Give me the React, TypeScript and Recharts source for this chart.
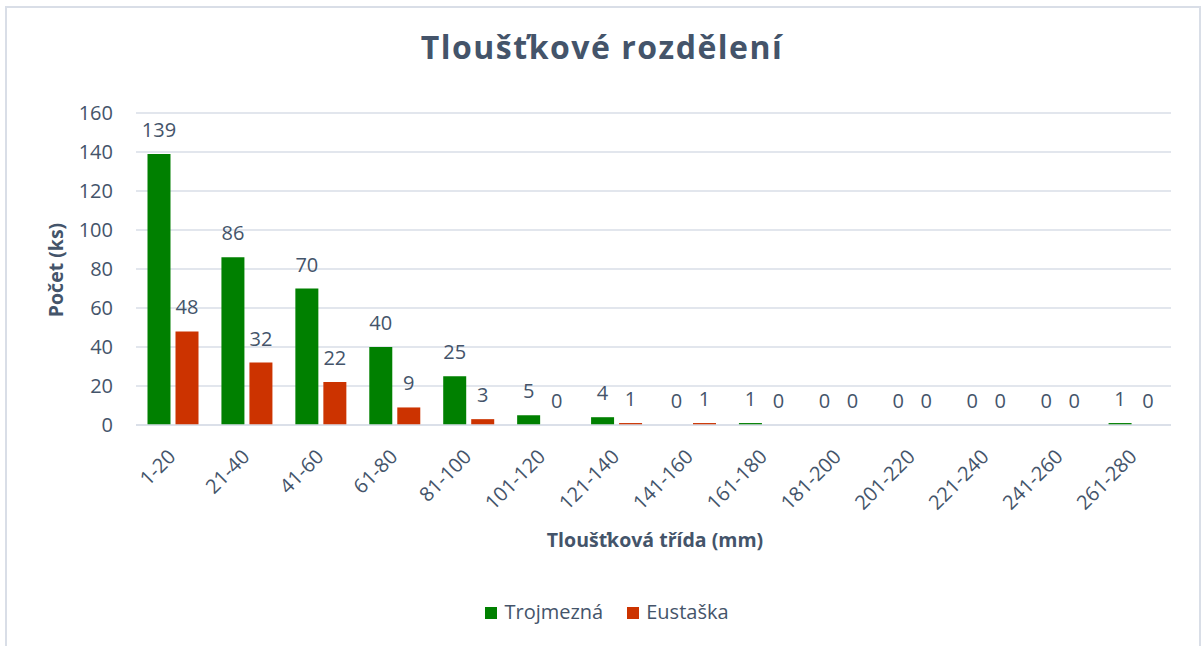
import React from "react";
import { Bar, BarChart, CartesianGrid, LabelList, Legend, XAxis, YAxis } from "recharts";

// Diameter classes (mm) and stem counts per locality
const classes = [
  "1-20", "21-40", "41-60", "61-80", "81-100", "101-120", "121-140",
  "141-160", "161-180", "181-200", "201-220", "221-240", "241-260", "261-280",
];
const trojmezna = [139, 86, 70, 40, 25, 5, 4, 0, 1, 0, 0, 0, 0, 1];
const eustaska = [48, 32, 22, 9, 3, 0, 1, 1, 0, 0, 0, 0, 0, 0];
const seriesNames = ["Trojmezná", "Eustaška"];
const yTicks = [0, 20, 40, 60, 80, 100, 120, 140, 160];

const TEXT = "#44546a";
const GRID = "#d9dee7";
const GREEN = "#008000";
const RED = "#cc3300";
const FONT = "'Open Sans', sans-serif";

const W = 1203;
const H = 646;

const data = classes.map((c, i) => ({
  name: c,
  trojmezna: trojmezna[i],
  eustaska: eustaska[i],
}));

function XTick(props: any) {
  const { x, y, payload } = props;
  return (
    <g transform={`translate(${x + 4},${y + 33}) rotate(-45)`}>
      <text textAnchor="end" fill={TEXT} fontSize={20} fontFamily={FONT}>
        {payload.value}
      </text>
    </g>
  );
}

function LegendContent(props: any) {
  const items = [...(props.payload || [])].sort(
    (a: any, b: any) => seriesNames.indexOf(a.value) - seriesNames.indexOf(b.value)
  );
  return (
    <div
      style={{
        display: "flex",
        justifyContent: "center",
        gap: 24,
        paddingLeft: 11,
        fontFamily: FONT,
        fontSize: 20,
        color: TEXT,
      }}
    >
      {items.map((it: any) => (
        <div key={it.value} style={{ display: "flex", alignItems: "center" }}>
          <span
            style={{
              display: "inline-block",
              width: 12,
              height: 12,
              background: it.color,
              marginRight: 7,
              marginTop: 3,
            }}
          />
          <span>{it.value}</span>
        </div>
      ))}
    </div>
  );
}

const labelStyle = { fill: TEXT, fontSize: 20, fontFamily: FONT };

export default function App() {
  return (
    <div
      style={{
        position: "absolute",
        left: 0,
        top: 0,
        width: W,
        height: H,
        overflow: "hidden",
        background: "#fff",
      }}
    >
      <div
        style={{
          position: "absolute",
          left: 5,
          top: 6,
          width: 1192,
          height: 700,
          border: `2px solid ${GRID}`,
        }}
      />
      <BarChart
        width={W}
        height={H}
        data={data}
        margin={{ top: 113, right: 32, left: 76, bottom: 121 }}
        barCategoryGap={11.5}
        barGap={5}
      >
        <CartesianGrid vertical={false} stroke={GRID} strokeWidth={1.5} />
        <XAxis
          dataKey="name"
          interval={0}
          tick={<XTick />}
          tickLine={false}
          tickSize={0}
          tickMargin={0}
          axisLine={{ stroke: GRID, strokeWidth: 1.5 }}
          height={100}
        />
        <YAxis
          domain={[0, 160]}
          ticks={yTicks}
          width={60}
          tickLine={false}
          tickSize={0}
          tickMargin={23}
          axisLine={false}
          tick={{ fill: TEXT, fontSize: 20, fontFamily: FONT }}
        />
        <Legend
          layout="horizontal"
          verticalAlign="middle"
          align="center"
          wrapperStyle={{ top: 598, left: 0, width: W }}
          content={<LegendContent />}
        />
        <Bar
          dataKey="trojmezna"
          name={seriesNames[0]}
          fill={GREEN}
          minPointSize={0.01}
          isAnimationActive={false}
        >
          <LabelList
            dataKey="trojmezna"
            position="top"
            offset={17}
            formatter={(v: any) => String(v)}
            style={labelStyle}
          />
        </Bar>
        <Bar
          dataKey="eustaska"
          name={seriesNames[1]}
          fill={RED}
          minPointSize={0.01}
          isAnimationActive={false}
        >
          <LabelList
            dataKey="eustaska"
            position="top"
            offset={17}
            formatter={(v: any) => String(v)}
            style={labelStyle}
          />
        </Bar>
      </BarChart>
      <svg
        width={W}
        height={H}
        style={{ position: "absolute", left: 0, top: 0, pointerEvents: "none" }}
      >
        <text
          x={602}
          y={59}
          textAnchor="middle"
          fill={TEXT}
          fontSize={32}
          fontWeight={700}
          fontFamily={FONT}
          letterSpacing={1.5}
        >
          Tloušťkové rozdělení
        </text>
        <text
          x={655}
          y={547}
          textAnchor="middle"
          fill={TEXT}
          fontSize={19.5}
          fontWeight={700}
          fontFamily={FONT}
        >
          Tloušťková třída (mm)
        </text>
        <text
          x={63}
          y={270}
          textAnchor="middle"
          transform="rotate(-90, 63, 270)"
          fill={TEXT}
          fontSize={19.5}
          fontWeight={700}
          fontFamily={FONT}
        >
          Počet (ks)
        </text>
      </svg>
    </div>
  );
}
